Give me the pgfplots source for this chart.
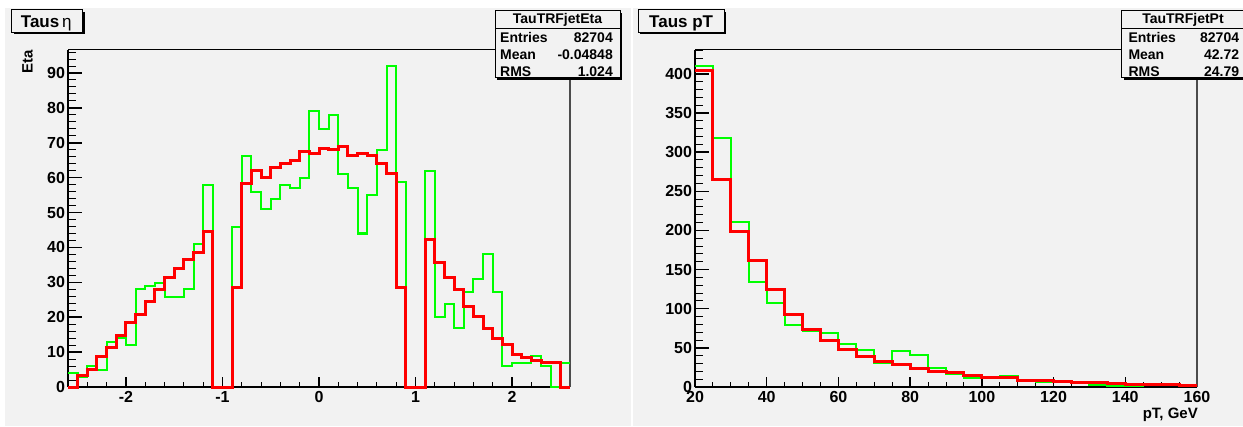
\documentclass[border=0pt]{standalone}
\usepackage{pgfplots}
\pgfplotsset{compat=1.18}
\usepackage{pgfplotstable}
\usepackage{fontspec}
\setmainfont{Liberation Sans}
\definecolor{panel}{RGB}{242,242,242}
\definecolor{rootgreen}{RGB}{0,255,0}
\definecolor{rootred}{RGB}{255,0,0}

\pgfplotstableread{
x y
-2.6 4.0
-2.5 3.0
-2.4 6.1
-2.3 4.9
-2.2 12.9
-2.1 14.1
-2.0 11.9
-1.9 28.0
-1.8 29.0
-1.7 29.9
-1.6 25.9
-1.5 25.9
-1.4 28.0
-1.3 41.0
-1.2 57.9
-1.1 0
-1.0 0
-0.9 46.0
-0.8 66.1
-0.7 56.0
-0.6 51.0
-0.5 53.9
-0.4 57.9
-0.3 57.0
-0.2 60.0
-0.1 79.0
0.0 74.0
0.1 78.0
0.2 61.1
0.3 57.0
0.4 44.0
0.5 55.1
0.6 68.0
0.7 91.9
0.8 58.9
0.9 0
1.0 0
1.1 62.0
1.2 20.0
1.3 23.9
1.4 17.0
1.5 27.1
1.6 31.0
1.7 38.0
1.8 27.1
1.9 6.1
2.0 7.0
2.1 7.0
2.2 9.0
2.3 6.1
2.4 0
2.5 7.0
2.6 7.0
}\etagreen

\pgfplotstableread{
x y
-2.6 0
-2.5 3.2
-2.4 4.9
-2.3 8.6
-2.2 11.4
-2.1 14.8
-2.0 18.4
-1.9 20.9
-1.8 24.5
-1.7 28.0
-1.6 31.3
-1.5 34.1
-1.4 36.5
-1.3 38.6
-1.2 44.5
-1.1 0
-1.0 0
-0.9 28.6
-0.8 58.4
-0.7 62.2
-0.6 60.1
-0.5 63.0
-0.4 64.0
-0.3 64.9
-0.2 67.4
-0.1 66.9
0.0 68.3
0.1 68.0
0.2 68.9
0.3 66.5
0.4 67.0
0.5 66.5
0.6 64.1
0.7 61.1
0.8 28.5
0.9 0
1.0 0
1.1 42.4
1.2 35.8
1.3 31.4
1.4 28.0
1.5 23.2
1.6 20.1
1.7 16.7
1.8 13.9
1.9 12.3
2.0 9.4
2.1 8.5
2.2 7.7
2.3 7.1
2.4 6.9
2.5 0
2.6 0
}\etared

\pgfplotstableread{
x y
20 410.2
25 318.6
30 210.4
35 134.2
40 107.8
45 78.8
50 72.0
55 68.6
60 55.0
65 47.7
70 30.2
75 45.6
80 40.9
85 23.9
90 17.0
95 11.1
100 13.2
105 14.5
110 7.7
115 6.8
120 6.4
125 5.5
130 2.1
135 1.7
140 1.7
145 2.6
150 3.4
155 0.9
160 0.9
}\ptgreen

\pgfplotstableread{
x y
20 403.8
25 264.5
30 198.9
35 161.4
40 124.8
45 92.4
50 73.3
55 59.2
60 48.1
65 39.2
70 32.8
75 29.0
80 23.4
85 19.2
90 17.9
95 14.1
100 12.4
105 11.9
110 8.9
115 8.1
120 6.8
125 6.0
130 6.0
135 4.3
140 3.4
145 3.4
150 3.4
155 1.7
160 1.7
}\ptred

\pgfplotsset{
  rootaxis/.style={
    scale only axis, width=502pt, height=337pt,
    axis x line*=bottom, axis y line*=left,
    axis line style={line width=1.6pt, black},
    tick align=inside,
    major tick length=14pt, minor tick length=7.5pt,
    xtick style={/pgfplots/major tick length=10pt,/pgfplots/minor tick length=5pt},
    major tick style={line width=1.5pt, black},
    minor tick style={line width=1pt, black},
    /pgf/number format/assume math mode=true,
    ticklabel style={font=\fontsize{16}{16}\selectfont\bfseries},
    yticklabel style={xshift=0.5pt},
    xticklabel style={yshift=-1pt},
    clip=false,
    scaled ticks=false,
  },
  hist/.style={const plot mark left, mark=none},
}

\begin{document}
\begin{tikzpicture}[x=1pt,y=1pt]
\fill[white] (0,0) rectangle (1243,426);
\fill[panel] (5,0) rectangle (631,418);
\fill[panel] (633,0) rectangle (1243,418);
\coordinate (LA) at (68,39);
\coordinate (RA) at (695,39);

% ---------- left panel ----------
\begin{axis}[rootaxis, at={(LA)}, anchor=south west,
  xmin=-2.6, xmax=2.6, ymin=0, ymax=96.6,
  xtick={-2,-1,0,1,2},
  minor xtick={-2.4,-2.2,...,2.41},
  ytick={0,10,...,90},
  minor ytick={0,2,...,96},
]
\draw[line width=1pt, black] (rel axis cs:0,1) -- (rel axis cs:1,1);
\draw[line width=2pt, black!70] (rel axis cs:1,0) -- (rel axis cs:1,1);
\addplot[hist, draw=rootgreen, line width=2pt] table {\etagreen};
\addplot[hist, draw=rootred, line width=3pt] table {\etared};
\end{axis}

% ---------- right panel ----------
\begin{axis}[rootaxis, at={(RA)}, anchor=south west,
  xmin=20, xmax=160, ymin=0, ymax=430.5,
  xtick={20,40,...,160},
  minor xtick={20,25,...,160},
  ytick={0,50,...,400},
  minor ytick={0,10,...,430},
]
\draw[line width=1pt, black] (rel axis cs:0,1) -- (rel axis cs:1,1);
\draw[line width=2pt, black!70] (rel axis cs:1,0) -- (rel axis cs:1,1);
\addplot[hist, draw=rootgreen, line width=2pt] table {\ptgreen};
\addplot[hist, draw=rootred, line width=3pt] table {\ptred};
\end{axis}

% axis titles
\node[rotate=90, anchor=east, inner sep=0, font=\fontsize{15}{15}\selectfont\bfseries] at (27.5,376) {Eta};
\node[anchor=base east, inner sep=0, font=\fontsize{15}{15}\selectfont\bfseries] at (1198,7.7) {pT, GeV};

% title boxes
\fill[black] (13.7,391.7) rectangle (84.7,414);
\filldraw[fill=panel, draw=black, line width=1pt] (11.7,393.7) rectangle (82.7,416);
\node[anchor=base west, inner sep=0] at (20.7,398.3) {\fontsize{17}{17}\selectfont\bfseries Taus\,\normalfont η};

\fill[black] (640.3,391.7) rectangle (726,414);
\filldraw[fill=panel, draw=black, line width=1pt] (638.3,393.7) rectangle (724,416);
\node[anchor=base west, inner sep=0] at (649,398.3) {\fontsize{17}{17}\selectfont\bfseries Taus pT};

% stats boxes
\begin{scope}[every node/.style={inner sep=0, font=\fontsize{14}{14}\selectfont\bfseries}]
\fill[black] (497,346.3) rectangle (622,413.3);
\filldraw[fill=panel, draw=black, line width=1pt] (495,348.3) rectangle (620,415.3);
\draw[line width=1pt] (495,397.7) -- (620,397.7);
\node[anchor=base] at (557.5,402.7) {TauTRFjetEta};
\node[anchor=base west] at (500,383.5) {Entries};
\node[anchor=base east] at (613,383.5) {82704};
\node[anchor=base west] at (500,366.7) {Mean};
\node[anchor=base east] at (613,366.7) {-0.04848};
\node[anchor=base west] at (500,349.8) {RMS};
\node[anchor=base east] at (613,349.8) {1.024};

\fill[black] (1123.7,346.3) rectangle (1247,413.3);
\filldraw[fill=panel, draw=black, line width=1pt] (1121.7,348.3) rectangle (1245,415.3);
\draw[line width=1pt] (1121.7,397.7) -- (1245,397.7);
\node[anchor=base] at (1183,402.7) {TauTRFjetPt};
\node[anchor=base west] at (1128.3,383.5) {Entries};
\node[anchor=base east] at (1239.3,383.5) {82704};
\node[anchor=base west] at (1128.3,366.7) {Mean};
\node[anchor=base east] at (1239.3,366.7) {42.72};
\node[anchor=base west] at (1128.3,349.8) {RMS};
\node[anchor=base east] at (1239.3,349.8) {24.79};
\end{scope}
\pgfresetboundingbox
\useasboundingbox (0,0) rectangle (1243,426);
\end{tikzpicture}
\end{document}
